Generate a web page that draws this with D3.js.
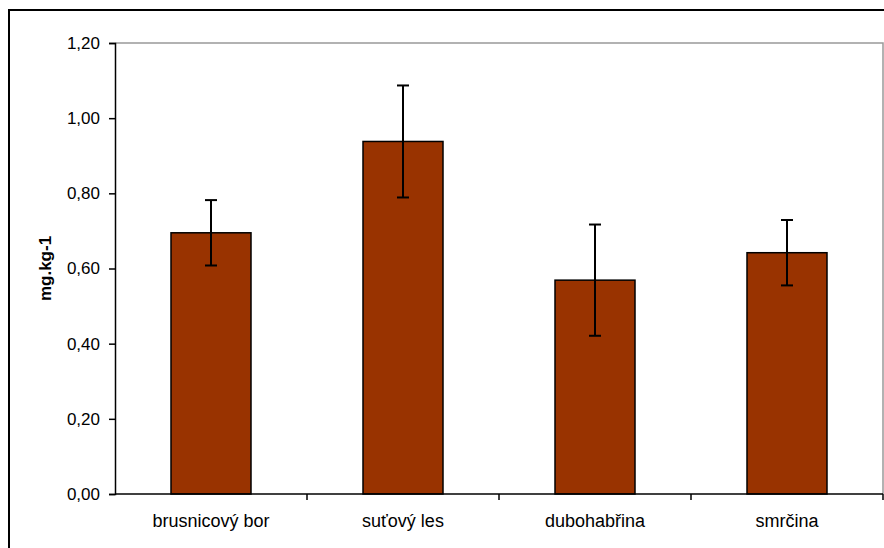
<!DOCTYPE html>
<html>
<head>
<meta charset="utf-8">
<script src="https://cdn.jsdelivr.net/npm/d3@7"></script>
<style>
  body { margin: 0; background: #fff; }
  svg { display: block; font-family: "Liberation Sans", Arial, sans-serif; }
</style>
</head>
<body>
<div id="chart"></div>
<script>
const categories = ['brusnicový bor', 'suťový les', 'dubohabřina', 'smrčina'];
const values = [0.695, 0.938, 0.569, 0.642];
const errors = [0.087, 0.149, 0.148, 0.087];
const yTicks = [0, 0.2, 0.4, 0.6, 0.8, 1.0, 1.2];

const w = 884;
const h = 548;
const padL = 115, padR = 883, padT = 43, padB = 494;
const fontSize = 17;

const svg = d3.select('#chart')
              .append('svg')
              .attr('width', w)
              .attr('height', h);

// outer chart border (runs off the picture on right and bottom)
svg.append('rect')
   .attr('x', 9).attr('y', 10)
   .attr('width', 1000).attr('height', 1000)
   .attr('fill', 'none')
   .attr('stroke', '#000')
   .attr('stroke-width', 2);

const xScale = d3.scaleBand()
                 .domain(categories)
                 .range([padL, padR]);
const yScale = d3.scaleLinear()
                 .domain([0, 1.2])
                 .range([padB, padT]);

const barW = xScale.bandwidth() / 2.4;
const fmt = d => d3.format('.2f')(d).replace('.', ',');

// plot frame (top and right in gray)
svg.append('path')
   .attr('d', `M${padL},${padT}H${padR}V${padB}`)
   .attr('fill', 'none')
   .attr('stroke', '#999')
   .attr('stroke-width', 1.5);

// bars
svg.selectAll('rect.bar')
   .data(values)
   .enter()
   .append('rect')
   .attr('class', 'bar')
   .attr('x', (d, i) => xScale(categories[i]) + (xScale.bandwidth() - barW) / 2)
   .attr('y', d => yScale(d))
   .attr('width', barW)
   .attr('height', d => padB - yScale(d))
   .attr('fill', '#993300')
   .attr('stroke', '#000')
   .attr('stroke-width', 1.5);

// error bars
const errG = svg.selectAll('g.err')
                .data(values)
                .enter()
                .append('g')
                .attr('class', 'err')
                .attr('stroke', '#000')
                .attr('stroke-width', 2);
const cx = (i) => xScale(categories[i]) + xScale.bandwidth() / 2;
errG.append('line')
    .attr('x1', (d, i) => cx(i)).attr('x2', (d, i) => cx(i))
    .attr('y1', (d, i) => yScale(d + errors[i]))
    .attr('y2', (d, i) => yScale(d - errors[i]));
errG.append('line')
    .attr('x1', (d, i) => cx(i) - 6).attr('x2', (d, i) => cx(i) + 6)
    .attr('y1', (d, i) => yScale(d + errors[i]))
    .attr('y2', (d, i) => yScale(d + errors[i]));
errG.append('line')
    .attr('x1', (d, i) => cx(i) - 6).attr('x2', (d, i) => cx(i) + 6)
    .attr('y1', (d, i) => yScale(d - errors[i]))
    .attr('y2', (d, i) => yScale(d - errors[i]));

// y axis
const yAxis = svg.append('g')
                 .attr('transform', `translate(${padL},0)`)
                 .call(d3.axisLeft(yScale).tickValues(yTicks).tickFormat(fmt).tickSize(6).tickPadding(9));
yAxis.attr('font-size', fontSize).attr('font-family', '"Liberation Sans", Arial, sans-serif');
yAxis.select('.domain').attr('stroke-width', 1.5);
yAxis.selectAll('.tick line').attr('stroke-width', 1.5);
yAxis.selectAll('text').attr('fill', '#000');

// x axis: ticks on category boundaries
const xG = svg.append('g').attr('transform', `translate(0,${padB})`);
xG.append('line')
  .attr('x1', padL).attr('x2', padR)
  .attr('stroke', '#000').attr('stroke-width', 1.5);
xG.selectAll('line.tk')
  .data(categories)
  .enter()
  .append('line')
  .attr('class', 'tk')
  .attr('x1', d => xScale(d) + xScale.bandwidth())
  .attr('x2', d => xScale(d) + xScale.bandwidth())
  .attr('y1', 0).attr('y2', 6)
  .attr('stroke', '#000').attr('stroke-width', 1.5);
xG.selectAll('text')
  .data(categories)
  .enter()
  .append('text')
  .attr('x', d => xScale(d) + xScale.bandwidth() / 2)
  .attr('y', 33)
  .attr('text-anchor', 'middle')
  .attr('font-size', 18)
  .text(d => d);

// y label
svg.append('text')
   .attr('transform', `translate(51,${(padT + padB) / 2}) rotate(-90)`)
   .attr('text-anchor', 'middle')
   .attr('font-size', fontSize)
   .attr('font-weight', 'bold')
   .text('mg.kg-1');
</script>
</body>
</html>
